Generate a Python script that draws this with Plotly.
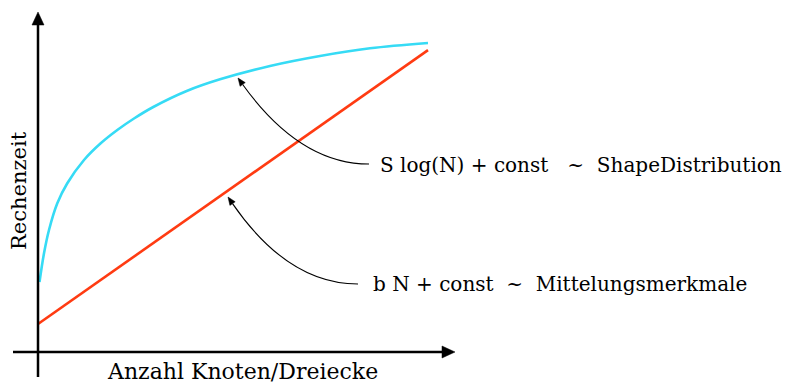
import math
import plotly.graph_objects as go

# ---- data (abstract units: N on x, Rechenzeit on y) ----
n_log = [0.385, 1.538, 2.821, 4.949, 7.513, 11.795, 16.077, 20.333, 24.615, 29.564, 38.128, 46.667, 59.487, 72.308, 85.128, 100]
t_log = [22.65, 31.94, 39.48, 48.12, 54.60, 62.14, 67.54, 71.84, 75.57, 79.29, 84.47, 88.25, 92.56, 95.79, 98.28, 100]
n_lin = [0, 100]
t_lin = [9.06, 97.7]

title_x = "Anzahl Knoten/Dreiecke"
title_y = "Rechenzeit"
label_log = "S log(N) + const\u00a0\u00a0\u00a0~\u00a0\u00a0ShapeDistribution"
label_lin = "b N + const\u00a0\u00a0~\u00a0\u00a0Mittelungsmerkmale"

W, H = 806, 383
FONT = "DejaVu Serif"

# pixel <-> data mapping helpers (layout only)
X0, SX = 38.0, 3.9
Y0, SY = 352.0, 3.09
def dx(px):
    return (px - X0) / SX
def dy(py):
    return (Y0 - py) / SY

fig = go.Figure()
fig.add_trace(go.Scatter(x=n_log, y=t_log, mode="lines", line=dict(color="#36dbf5", width=2.6, shape="spline", smoothing=1.0), hoverinfo="skip"))
fig.add_trace(go.Scatter(x=n_lin, y=t_lin, mode="lines", line=dict(color="#ff3b12", width=2.6), hoverinfo="skip"))

shapes = []
# axes lines
shapes.append(dict(type="line", xref="x", yref="y", x0=dx(13), y0=dy(352), x1=dx(445), y1=dy(352), line=dict(color="black", width=2.5)))
shapes.append(dict(type="line", xref="x", yref="y", x0=dx(38), y0=dy(377), x1=dx(38), y1=dy(22), line=dict(color="black", width=2.5)))

def tri(pts):
    p = "M " + " L ".join(f"{dx(a)},{dy(b)}" for a, b in pts) + " Z"
    return dict(type="path", xref="x", yref="y", path=p, fillcolor="black", line=dict(color="black", width=0.5))

shapes.append(tri([(38, 12), (32, 25), (44, 25)]))
shapes.append(tri([(455, 352), (442, 346), (442, 358)]))

def curved_arrow(p0, c, tip, head_len=8, half_w=3.2):
    vx, vy = tip[0] - c[0], tip[1] - c[1]
    L = math.hypot(vx, vy)
    ux, uy = vx / L, vy / L
    bx, by = tip[0] - head_len * ux, tip[1] - head_len * uy
    nx, ny = -uy, ux
    path = f"M {dx(p0[0])},{dy(p0[1])} Q {dx(c[0])},{dy(c[1])} {dx(bx)},{dy(by)}"
    out = [dict(type="path", xref="x", yref="y", path=path, line=dict(color="black", width=1.1))]
    out.append(tri([tip, (bx + half_w * nx, by + half_w * ny), (bx - half_w * nx, by - half_w * ny)]))
    return out

shapes += curved_arrow((369, 164), (300, 164), (238, 78))
shapes += curved_arrow((358, 284), (288, 284), (228, 197))

annotations = [
    dict(text=label_log, x=dx(378), y=dy(165), xref="x", yref="y", xanchor="left", yanchor="middle", showarrow=False, font=dict(family=FONT, size=20, color="black")),
    dict(text=label_lin, x=dx(371), y=dy(284), xref="x", yref="y", xanchor="left", yanchor="middle", showarrow=False, font=dict(family=FONT, size=20, color="black")),
    dict(text=title_x, x=dx(242), y=dy(371), xref="x", yref="y", xanchor="center", yanchor="middle", showarrow=False, font=dict(family=FONT, size=22, color="black")),
    dict(text=title_y, x=dx(19), y=dy(191), xref="x", yref="y", xanchor="center", yanchor="middle", textangle=-90, showarrow=False, font=dict(family=FONT, size=21, color="black")),
]

fig.update_layout(
    width=W, height=H, margin=dict(l=0, r=0, t=0, b=0),
    paper_bgcolor="white", plot_bgcolor="white", showlegend=False,
    xaxis=dict(range=[dx(0), dx(W)], visible=False, fixedrange=True),
    yaxis=dict(range=[dy(H), dy(0)], visible=False, fixedrange=True),
    shapes=shapes, annotations=annotations,
)
fig.write_html("out.html", config={"displayModeBar": False},
               post_script="document.body.style.margin='0';document.body.style.overflow='hidden';")
